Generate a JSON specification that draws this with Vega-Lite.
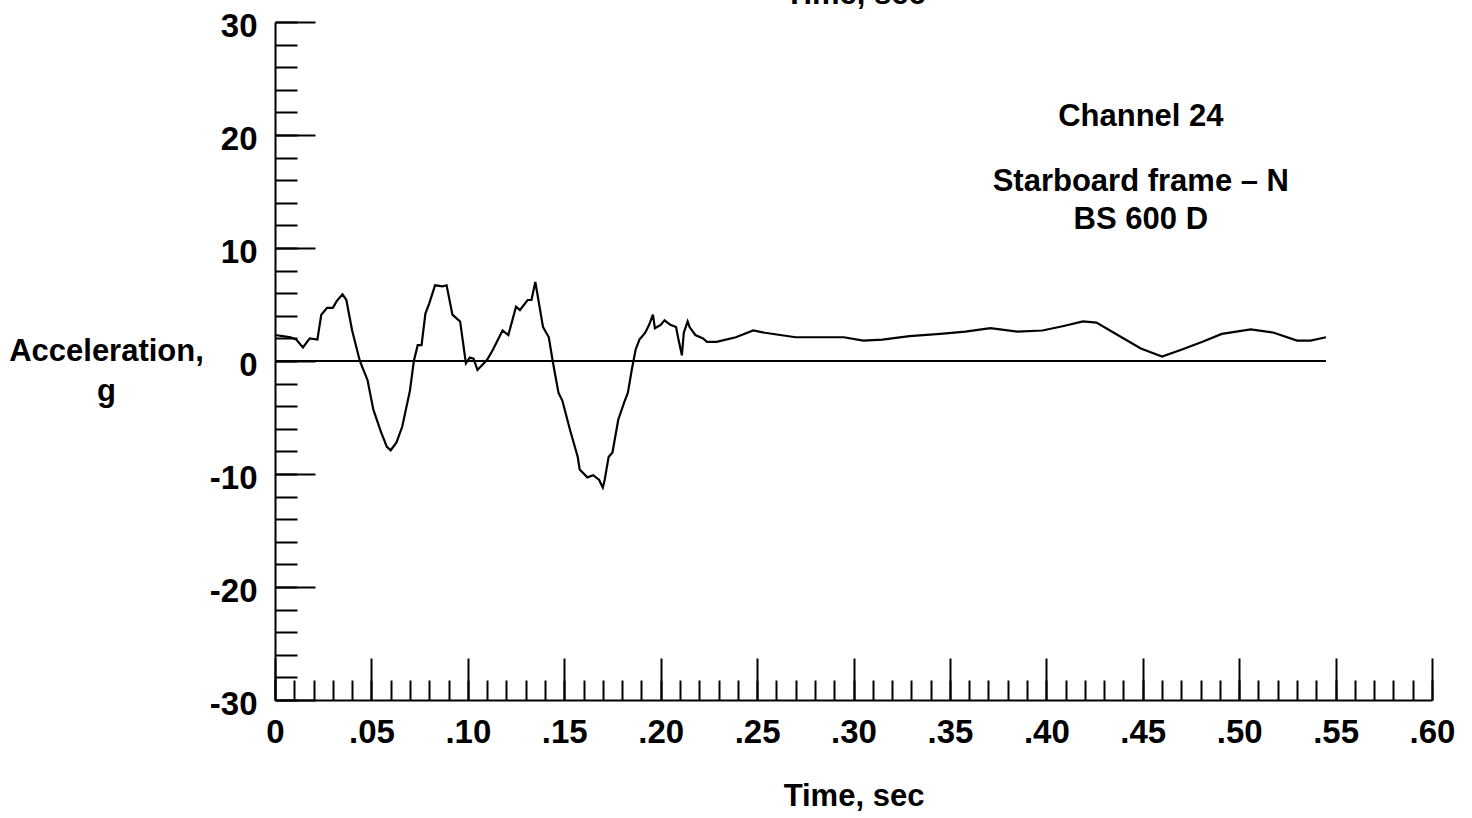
{
  "$schema": "https://vega.github.io/schema/vega-lite/v6.json",
  "width": 1157,
  "height": 678,
  "autosize": {"type": "none"},
  "padding": {"left": 275, "top": 22, "right": 40, "bottom": 118},
  "background": "white",
  "config": {
    "view": {"stroke": null},
    "font": "Liberation Sans, Arial, sans-serif"
  },
  "datasets": {
    "trace": [
      {"t": 0.000, "v": 2.3}, {"t": 0.004, "v": 2.2}, {"t": 0.008, "v": 2.1}, {"t": 0.011, "v": 1.9},
      {"t": 0.0145, "v": 1.2}, {"t": 0.018, "v": 2.0}, {"t": 0.022, "v": 1.9}, {"t": 0.024, "v": 4.1},
      {"t": 0.027, "v": 4.7}, {"t": 0.030, "v": 4.7}, {"t": 0.032, "v": 5.3}, {"t": 0.035, "v": 5.9},
      {"t": 0.037, "v": 5.4}, {"t": 0.040, "v": 2.7}, {"t": 0.044, "v": 0.0}, {"t": 0.048, "v": -1.7},
      {"t": 0.051, "v": -4.3}, {"t": 0.055, "v": -6.3}, {"t": 0.058, "v": -7.6}, {"t": 0.060, "v": -7.9},
      {"t": 0.063, "v": -7.2}, {"t": 0.066, "v": -5.8}, {"t": 0.070, "v": -2.6}, {"t": 0.072, "v": 0.0},
      {"t": 0.074, "v": 1.4}, {"t": 0.076, "v": 1.4}, {"t": 0.078, "v": 4.2}, {"t": 0.080, "v": 5.1},
      {"t": 0.083, "v": 6.7}, {"t": 0.087, "v": 6.6}, {"t": 0.089, "v": 6.7}, {"t": 0.092, "v": 4.1},
      {"t": 0.094, "v": 3.8}, {"t": 0.096, "v": 3.5}, {"t": 0.099, "v": -0.2}, {"t": 0.101, "v": 0.3},
      {"t": 0.103, "v": 0.2}, {"t": 0.105, "v": -0.8}, {"t": 0.110, "v": 0.1}, {"t": 0.113, "v": 1.0},
      {"t": 0.118, "v": 2.7}, {"t": 0.121, "v": 2.3}, {"t": 0.125, "v": 4.8}, {"t": 0.127, "v": 4.5},
      {"t": 0.131, "v": 5.4}, {"t": 0.133, "v": 5.4}, {"t": 0.135, "v": 7.0}, {"t": 0.136, "v": 6.0},
      {"t": 0.139, "v": 3.0}, {"t": 0.142, "v": 2.1}, {"t": 0.144, "v": 0.0}, {"t": 0.147, "v": -2.8},
      {"t": 0.149, "v": -3.5}, {"t": 0.153, "v": -6.1}, {"t": 0.157, "v": -8.5}, {"t": 0.158, "v": -9.6},
      {"t": 0.162, "v": -10.3}, {"t": 0.165, "v": -10.1}, {"t": 0.168, "v": -10.5}, {"t": 0.170, "v": -11.2},
      {"t": 0.171, "v": -10.5}, {"t": 0.173, "v": -8.5}, {"t": 0.175, "v": -8.1}, {"t": 0.178, "v": -5.2},
      {"t": 0.181, "v": -3.7}, {"t": 0.183, "v": -2.8}, {"t": 0.185, "v": -0.8}, {"t": 0.187, "v": 1.0},
      {"t": 0.189, "v": 1.9}, {"t": 0.192, "v": 2.5}, {"t": 0.194, "v": 3.2}, {"t": 0.196, "v": 4.1},
      {"t": 0.197, "v": 2.9}, {"t": 0.200, "v": 3.2}, {"t": 0.202, "v": 3.6}, {"t": 0.205, "v": 3.2},
      {"t": 0.208, "v": 3.0}, {"t": 0.209, "v": 2.1}, {"t": 0.211, "v": 0.5}, {"t": 0.212, "v": 2.5},
      {"t": 0.214, "v": 3.5}, {"t": 0.215, "v": 3.0}, {"t": 0.218, "v": 2.3}, {"t": 0.222, "v": 2.0},
      {"t": 0.224, "v": 1.7}, {"t": 0.229, "v": 1.7}, {"t": 0.239, "v": 2.1}, {"t": 0.248, "v": 2.7},
      {"t": 0.254, "v": 2.5}, {"t": 0.270, "v": 2.1}, {"t": 0.295, "v": 2.1}, {"t": 0.305, "v": 1.8},
      {"t": 0.315, "v": 1.9}, {"t": 0.329, "v": 2.2}, {"t": 0.345, "v": 2.4}, {"t": 0.358, "v": 2.6},
      {"t": 0.371, "v": 2.9}, {"t": 0.385, "v": 2.6}, {"t": 0.398, "v": 2.7}, {"t": 0.409, "v": 3.1},
      {"t": 0.419, "v": 3.5}, {"t": 0.426, "v": 3.4}, {"t": 0.433, "v": 2.7}, {"t": 0.441, "v": 1.9},
      {"t": 0.449, "v": 1.1}, {"t": 0.460, "v": 0.4}, {"t": 0.470, "v": 1.0}, {"t": 0.481, "v": 1.7},
      {"t": 0.491, "v": 2.4}, {"t": 0.506, "v": 2.8}, {"t": 0.518, "v": 2.5}, {"t": 0.530, "v": 1.8},
      {"t": 0.537, "v": 1.8}, {"t": 0.545, "v": 2.1}
    ],
    "zero": [{"t": 0, "v": 0}, {"t": 0.545, "v": 0}],
    "notes": [
      {"t": 0.449, "v": 21.6, "label": "Channel 24"},
      {"t": 0.449, "v": 15.8, "label": "Starboard frame – N"},
      {"t": 0.449, "v": 12.5, "label": "BS 600 D"},
      {"t": 0.301, "v": 32.4, "label": "Time, sec"}
    ]
  },
  "layer": [
    {
      "data": {"name": "trace"},
      "mark": {"type": "line", "color": "black", "strokeWidth": 2.2},
      "encoding": {
        "x": {
          "field": "t", "type": "quantitative",
          "scale": {"domain": [0, 0.6], "nice": false, "zero": false},
          "axis": {
            "orient": "bottom",
            "values": [0, 0.05, 0.1, 0.15, 0.2, 0.25, 0.3, 0.35, 0.4, 0.45, 0.5, 0.55, 0.6],
            "labelExpr": "datum.value == 0 ? '0' : replace(format(datum.value, '.2f'), '0.', '.')",
            "ticks": false, "grid": false,
            "domain": true, "domainColor": "black", "domainWidth": 2,
            "labelFontSize": 33, "labelFontWeight": "bold", "labelColor": "black",
            "labelPadding": 16, "labelFlush": false, "labelOverlap": false,
            "title": "Time, sec", "titleFontSize": 31, "titleFontWeight": "bold", "titleColor": "black",
            "titleY": 105, "titleBaseline": "alphabetic"
          }
        },
        "y": {
          "field": "v", "type": "quantitative",
          "scale": {"domain": [-30, 30], "nice": false, "zero": false},
          "axis": {
            "orient": "left",
            "values": [-30, -20, -10, 0, 10, 20, 30],
            "labelExpr": "'' + datum.value",
            "ticks": false, "grid": false,
            "domain": true, "domainColor": "black", "domainWidth": 2,
            "labelFontSize": 33, "labelFontWeight": "bold", "labelColor": "black",
            "labelPadding": 18, "labelBaseline": "middle", "labelOffset": 4, "labelFlush": false, "labelOverlap": false,
            "title": ["Acceleration,", "g"], "titleAngle": 0, "titleAlign": "center",
            "titleBaseline": "alphabetic", "titleX": -169, "titleY": 338, "titleLineHeight": 40,
            "titleFontSize": 31, "titleFontWeight": "bold", "titleColor": "black"
          }
        }
      }
    },
    {
      "data": {"name": "zero"},
      "mark": {"type": "line", "color": "black", "strokeWidth": 2},
      "encoding": {
        "x": {
          "field": "t", "type": "quantitative",
          "scale": {"domain": [0, 0.6], "nice": false, "zero": false},
          "axis": {
            "orient": "bottom",
            "values": [0, 0.05, 0.1, 0.15, 0.2, 0.25, 0.3, 0.35, 0.4, 0.45, 0.5, 0.55, 0.6],
            "labels": false, "domain": false, "grid": false, "title": null,
            "ticks": true, "tickSize": -42, "tickWidth": 2, "tickColor": "black"
          }
        },
        "y": {
          "field": "v", "type": "quantitative",
          "scale": {"domain": [-30, 30], "nice": false, "zero": false},
          "axis": {
            "orient": "left",
            "values": [-30, -20, -10, 0, 10, 20, 30],
            "labels": false, "domain": false, "grid": false, "title": null,
            "ticks": true, "tickSize": -40, "tickWidth": 2, "tickColor": "black"
          }
        }
      }
    },
    {
      "data": {"name": "notes"},
      "mark": {"type": "text", "color": "black", "fontSize": 31, "fontWeight": "bold", "align": "center", "baseline": "middle"},
      "encoding": {
        "x": {
          "field": "t", "type": "quantitative",
          "scale": {"domain": [0, 0.6], "nice": false, "zero": false},
          "axis": {
            "orient": "bottom",
            "values": [0, 0.01, 0.02, 0.03, 0.04, 0.05, 0.06, 0.07, 0.08, 0.09, 0.1, 0.11, 0.12, 0.13, 0.14, 0.15, 0.16, 0.17, 0.18, 0.19, 0.2, 0.21, 0.22, 0.23, 0.24, 0.25, 0.26, 0.27, 0.28, 0.29, 0.3, 0.31, 0.32, 0.33, 0.34, 0.35, 0.36, 0.37, 0.38, 0.39, 0.4, 0.41, 0.42, 0.43, 0.44, 0.45, 0.46, 0.47, 0.48, 0.49, 0.5, 0.51, 0.52, 0.53, 0.54, 0.55, 0.56, 0.57, 0.58, 0.59, 0.6],
            "labels": false, "domain": false, "grid": false, "title": null,
            "ticks": true, "tickSize": -20, "tickWidth": 2, "tickColor": "black"
          }
        },
        "y": {
          "field": "v", "type": "quantitative",
          "scale": {"domain": [-30, 30], "nice": false, "zero": false},
          "axis": {
            "orient": "left",
            "values": [-30, -28, -26, -24, -22, -20, -18, -16, -14, -12, -10, -8, -6, -4, -2, 0, 2, 4, 6, 8, 10, 12, 14, 16, 18, 20, 22, 24, 26, 28, 30],
            "labels": false, "domain": false, "grid": false, "title": null,
            "ticks": true, "tickSize": -22, "tickWidth": 2, "tickColor": "black"
          }
        },
        "text": {"field": "label", "type": "nominal"}
      }
    }
  ],
  "resolve": {"axis": {"x": "independent", "y": "independent"}}
}
